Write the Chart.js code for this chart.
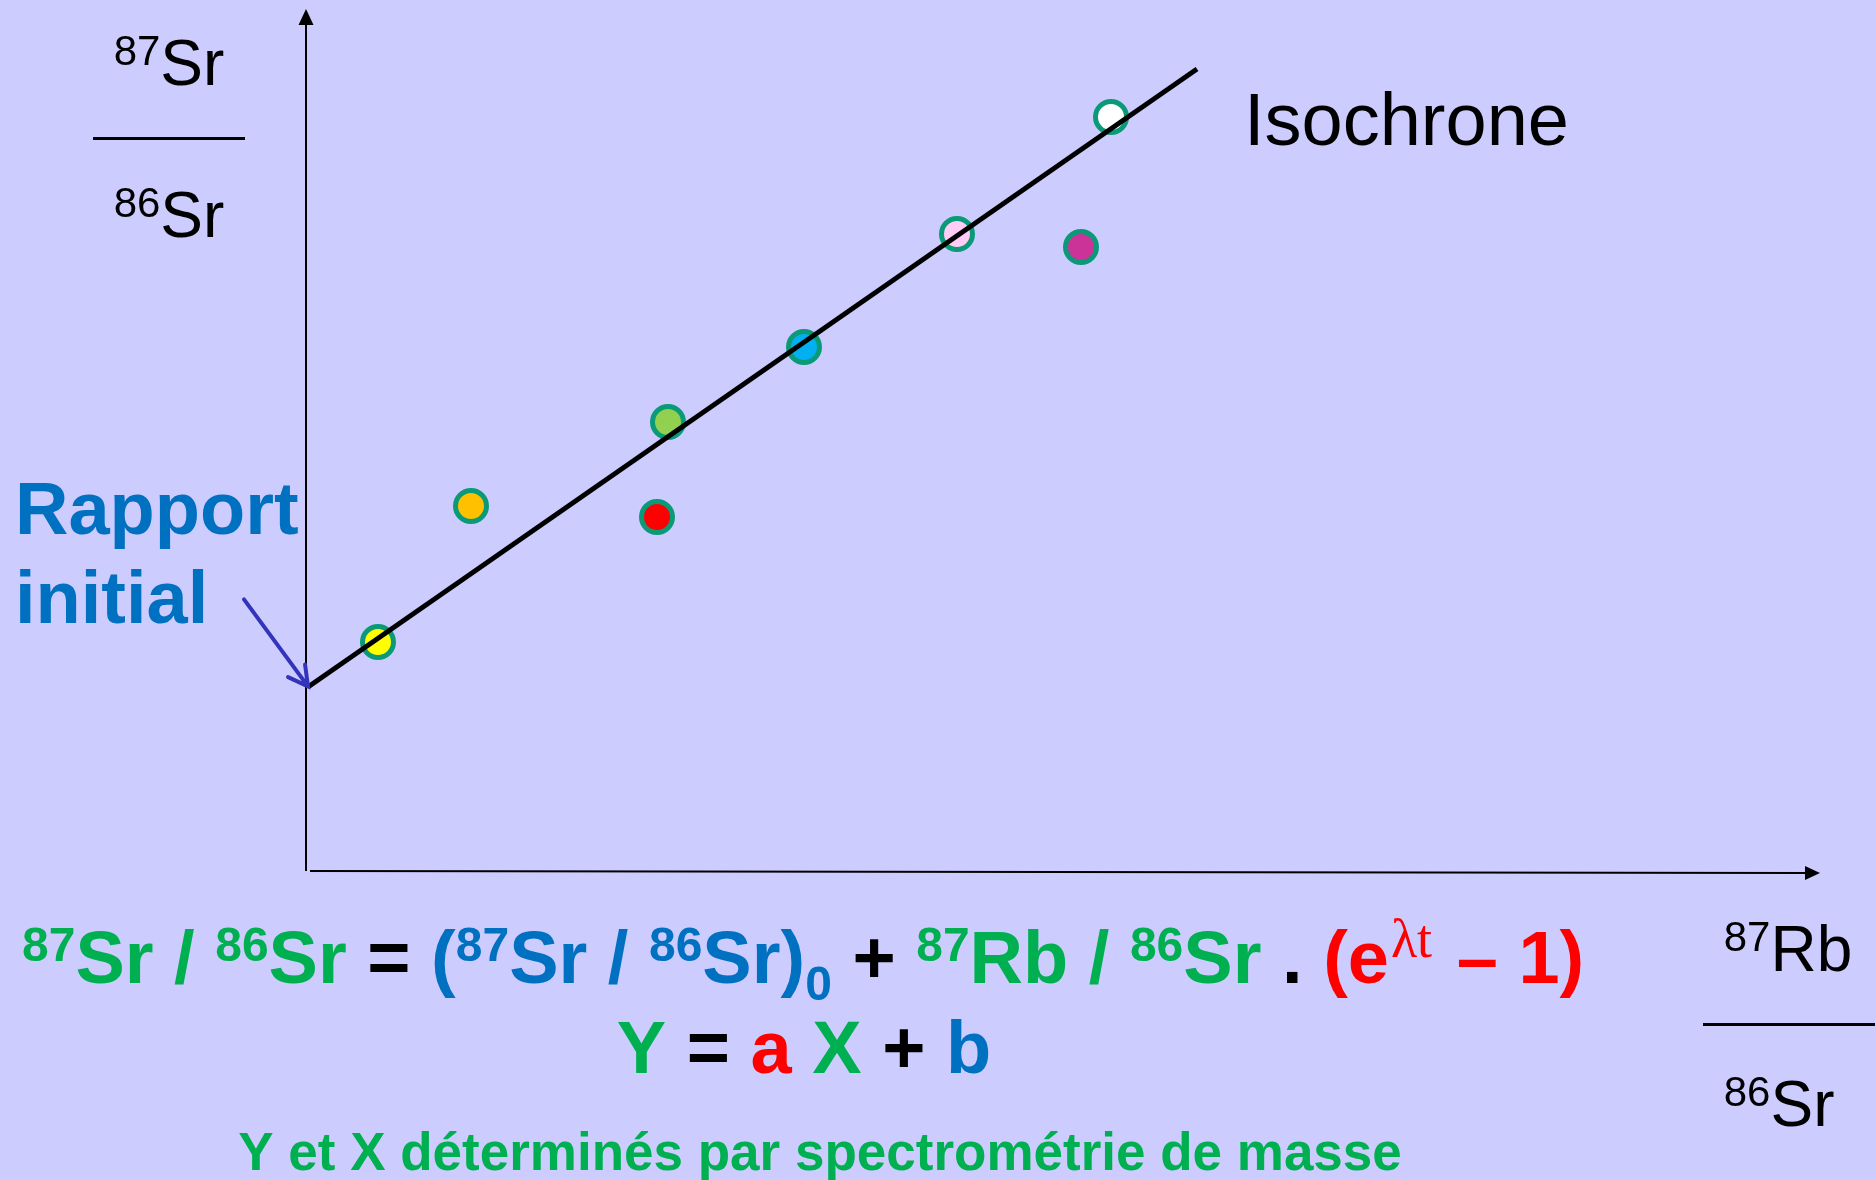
<!DOCTYPE html>
<html lang="fr">
<head>
<meta charset="utf-8">
<title>Isochrone Rb-Sr</title>
<script src="https://cdn.jsdelivr.net/npm/chart.js@4.4.1/dist/chart.umd.min.js"></script>
<style>
  html, body { margin: 0; padding: 0; background: #ccccff; overflow: hidden; }
  #isoChart { display: block; }
</style>
</head>
<body>
<canvas id="isoChart" width="1876" height="1180"></canvas>
<script>
// Echantillons : 87Rb/86Sr (x) et 87Sr/86Sr (y), unites arbitraires
const echX = [0.72, 1.65, 3.51, 3.62, 4.98, 6.51, 7.75, 8.05];
const echY = [2.29, 3.65, 3.54, 4.49, 5.24, 6.37, 6.24, 7.54];
const echCouleurs = ["#ffff00", "#ffc000", "#ff0000", "#92d050", "#00b0f0", "#ffccf5", "#cc3399", "#ffffff"];

// Isochrone (droite) : deux extremites
const isoX = [0.02, 8.91];
const isoY = [1.84, 8.02];

// bornes des axes
const xMax = 15.14;
const yMax = 8.61;

const POLICE = "'Liberation Sans', Arial, sans-serif";
const VERT = "#00b050", BLEU = "#0070c0", ROUGE = "#ff0000", NOIR = "#000000";

// ecrit une suite de morceaux de texte a la suite, renvoie le x final
function ecrireSuite(ctx, x, base, morceaux) {
    morceaux.forEach(m => {
        ctx.font = m.font;
        ctx.fillStyle = m.color;
        ctx.fillText(m.text, x, base + (m.dy || 0));
        x += ctx.measureText(m.text).width + (m.gap || 0);
    });
    return x;
}

function largeurSuite(ctx, morceaux) {
    let w = 0;
    morceaux.forEach(m => { ctx.font = m.font; w += ctx.measureText(m.text).width + (m.gap || 0); });
    return w;
}

function morceauxIsotope(masse, symbole) {
    return [
        { text: masse, font: "42px " + POLICE, color: NOIR, dy: -20 },
        { text: symbole, font: "64px " + POLICE, color: NOIR }
    ];
}

const pluginAxes = {
    id: "axes",
    beforeDatasetsDraw(chart) {
        let ctx = chart.ctx;
        let xs = chart.scales.x, ys = chart.scales.y;
        let x0 = xs.getPixelForValue(0), y0 = ys.getPixelForValue(0);
        let haut = ys.getPixelForValue(yMax), droite = xs.getPixelForValue(xMax);
        ctx.save();
        ctx.strokeStyle = NOIR;
        ctx.fillStyle = NOIR;
        ctx.lineWidth = 2;
        // axe vertical
        ctx.beginPath();
        ctx.moveTo(x0, y0);
        ctx.lineTo(x0, haut + 12);
        ctx.stroke();
        ctx.beginPath();
        ctx.moveTo(x0, haut - 1);
        ctx.lineTo(x0 - 7.5, haut + 15);
        ctx.lineTo(x0 + 7.5, haut + 15);
        ctx.closePath();
        ctx.fill();
        // axe horizontal (un peu incline comme sur l'original)
        ctx.beginPath();
        ctx.moveTo(x0 + 4, y0);
        ctx.lineTo(droite - 12, y0 + 2);
        ctx.stroke();
        ctx.beginPath();
        ctx.moveTo(droite, y0 + 2);
        ctx.lineTo(droite - 15, y0 + 2 - 7);
        ctx.lineTo(droite - 15, y0 + 2 + 7);
        ctx.closePath();
        ctx.fill();
        ctx.restore();
    }
};

const pluginTextes = {
    id: "textes",
    afterDraw(chart) {
        let ctx = chart.ctx;
        let xs = chart.scales.x, ys = chart.scales.y;
        ctx.save();
        ctx.textBaseline = "alphabetic";
        ctx.textAlign = "left";

        // titre axe y : 87Sr / 86Sr
        ctx.fillStyle = NOIR;
        ctx.fillRect(93, 137, 152, 3);
        let m87 = morceauxIsotope("87", "Sr");
        let gx = 169 - largeurSuite(ctx, m87) / 2;
        ecrireSuite(ctx, gx, 85, m87);
        ecrireSuite(ctx, gx, 237, morceauxIsotope("86", "Sr"));

        // titre axe x : 87Rb / 86Sr (aligne a gauche)
        ctx.fillStyle = NOIR;
        ctx.fillRect(1703, 1023, 172, 3);
        let mRb = morceauxIsotope("87", "Rb");
        let dx = 1788 - largeurSuite(ctx, mRb) / 2;
        ecrireSuite(ctx, dx, 971, mRb);
        ecrireSuite(ctx, dx, 1126, morceauxIsotope("86", "Sr"));

        // Isochrone
        ctx.font = "74px " + POLICE;
        ctx.fillStyle = NOIR;
        ctx.fillText("Isochrone", 1244, 145);

        // Rapport initial
        ctx.font = "bold 74px " + POLICE;
        ctx.fillStyle = BLEU;
        ctx.fillText("Rapport", 15, 534);
        ctx.fillText("initial", 15, 623);

        // fleche vers l'ordonnee a l'origine
        let pente = (isoY[1] - isoY[0]) / (isoX[1] - isoX[0]);
        let bx = xs.getPixelForValue(0) + 2;
        let by = ys.getPixelForValue(isoY[0] - pente * isoX[0]) - 2;
        let ax = bx - 64, ay = by - 87;
        let ang = Math.atan2(by - ay, bx - ax);
        ctx.strokeStyle = "#3333bb";
        ctx.lineWidth = 4;
        ctx.lineCap = "round";
        ctx.beginPath();
        ctx.moveTo(ax, ay);
        ctx.lineTo(bx, by);
        ctx.moveTo(bx - 22 * Math.cos(ang - 0.5), by - 22 * Math.sin(ang - 0.5));
        ctx.lineTo(bx, by);
        ctx.lineTo(bx - 22 * Math.cos(ang + 0.5), by - 22 * Math.sin(ang + 0.5));
        ctx.stroke();

        // equation
        let gros = "bold 74px " + POLICE;
        let exp = "bold 48px " + POLICE;
        let formule = [
            { text: "87", font: exp, color: VERT, dy: -22 },
            { text: "Sr / ", font: gros, color: VERT },
            { text: "86", font: exp, color: VERT, dy: -22 },
            { text: "Sr ", font: gros, color: VERT },
            { text: "= ", font: gros, color: NOIR },
            { text: "(", font: gros, color: BLEU },
            { text: "87", font: exp, color: BLEU, dy: -22 },
            { text: "Sr / ", font: gros, color: BLEU },
            { text: "86", font: exp, color: BLEU, dy: -22 },
            { text: "Sr)", font: gros, color: BLEU },
            { text: "0", font: exp, color: BLEU, dy: 17 },
            { text: " + ", font: gros, color: NOIR },
            { text: "87", font: exp, color: VERT, dy: -22 },
            { text: "Rb / ", font: gros, color: VERT },
            { text: "86", font: exp, color: VERT, dy: -22 },
            { text: "Sr", font: gros, color: VERT },
            { text: " . ", font: gros, color: NOIR },
            { text: "(e", font: gros, color: ROUGE, gap: 2 },
            { text: "\u03bbt", font: "54px 'Liberation Serif', serif", color: ROUGE, dy: -26, gap: 4 },
            { text: " \u2013 1)", font: gros, color: ROUGE }
        ];
        ecrireSuite(ctx, 22, 983, formule);

        let ligne2 = [
            { text: "Y ", font: gros, color: VERT },
            { text: "= ", font: gros, color: NOIR },
            { text: "a ", font: gros, color: ROUGE },
            { text: "X ", font: gros, color: VERT },
            { text: "+ ", font: gros, color: NOIR },
            { text: "b", font: gros, color: BLEU }
        ];
        let w2 = largeurSuite(ctx, ligne2);
        ecrireSuite(ctx, 804 - w2 / 2, 1073, ligne2);

        ctx.font = "bold 53px " + POLICE;
        ctx.fillStyle = VERT;
        ctx.textAlign = "center";
        ctx.fillText("Y et X d\u00e9termin\u00e9s par spectrom\u00e9trie de masse", 820, 1170);
        ctx.restore();
    }
};

const chart = new Chart(document.getElementById("isoChart").getContext("2d"), {
    type: "scatter",
    data: {
        datasets: [
            {
                type: "line",
                label: "Isochrone",
                data: isoX.map((x, i) => ({ x: x, y: isoY[i] })),
                borderColor: NOIR,
                borderWidth: 5,
                pointRadius: 0,
                fill: false,
                order: 0,
                clip: false
            },
            {
                label: "Echantillons",
                data: echX.map((x, i) => ({ x: x, y: echY[i] })),
                backgroundColor: echCouleurs,
                borderColor: "#0a9a78",
                borderWidth: 5,
                pointRadius: 15.5,
                order: 1
            }
        ]
    },
    options: {
        responsive: false,
        animation: false,
        events: [],
        layout: { autoPadding: false, padding: { left: 306, right: 56, top: 10, bottom: 309 } },
        scales: {
            x: { type: "linear", min: 0, max: xMax, display: false },
            y: { type: "linear", min: 0, max: yMax, display: false }
        },
        plugins: {
            legend: { display: false },
            tooltip: { enabled: false }
        }
    },
    plugins: [pluginAxes, pluginTextes]
});
</script>
</body>
</html>
